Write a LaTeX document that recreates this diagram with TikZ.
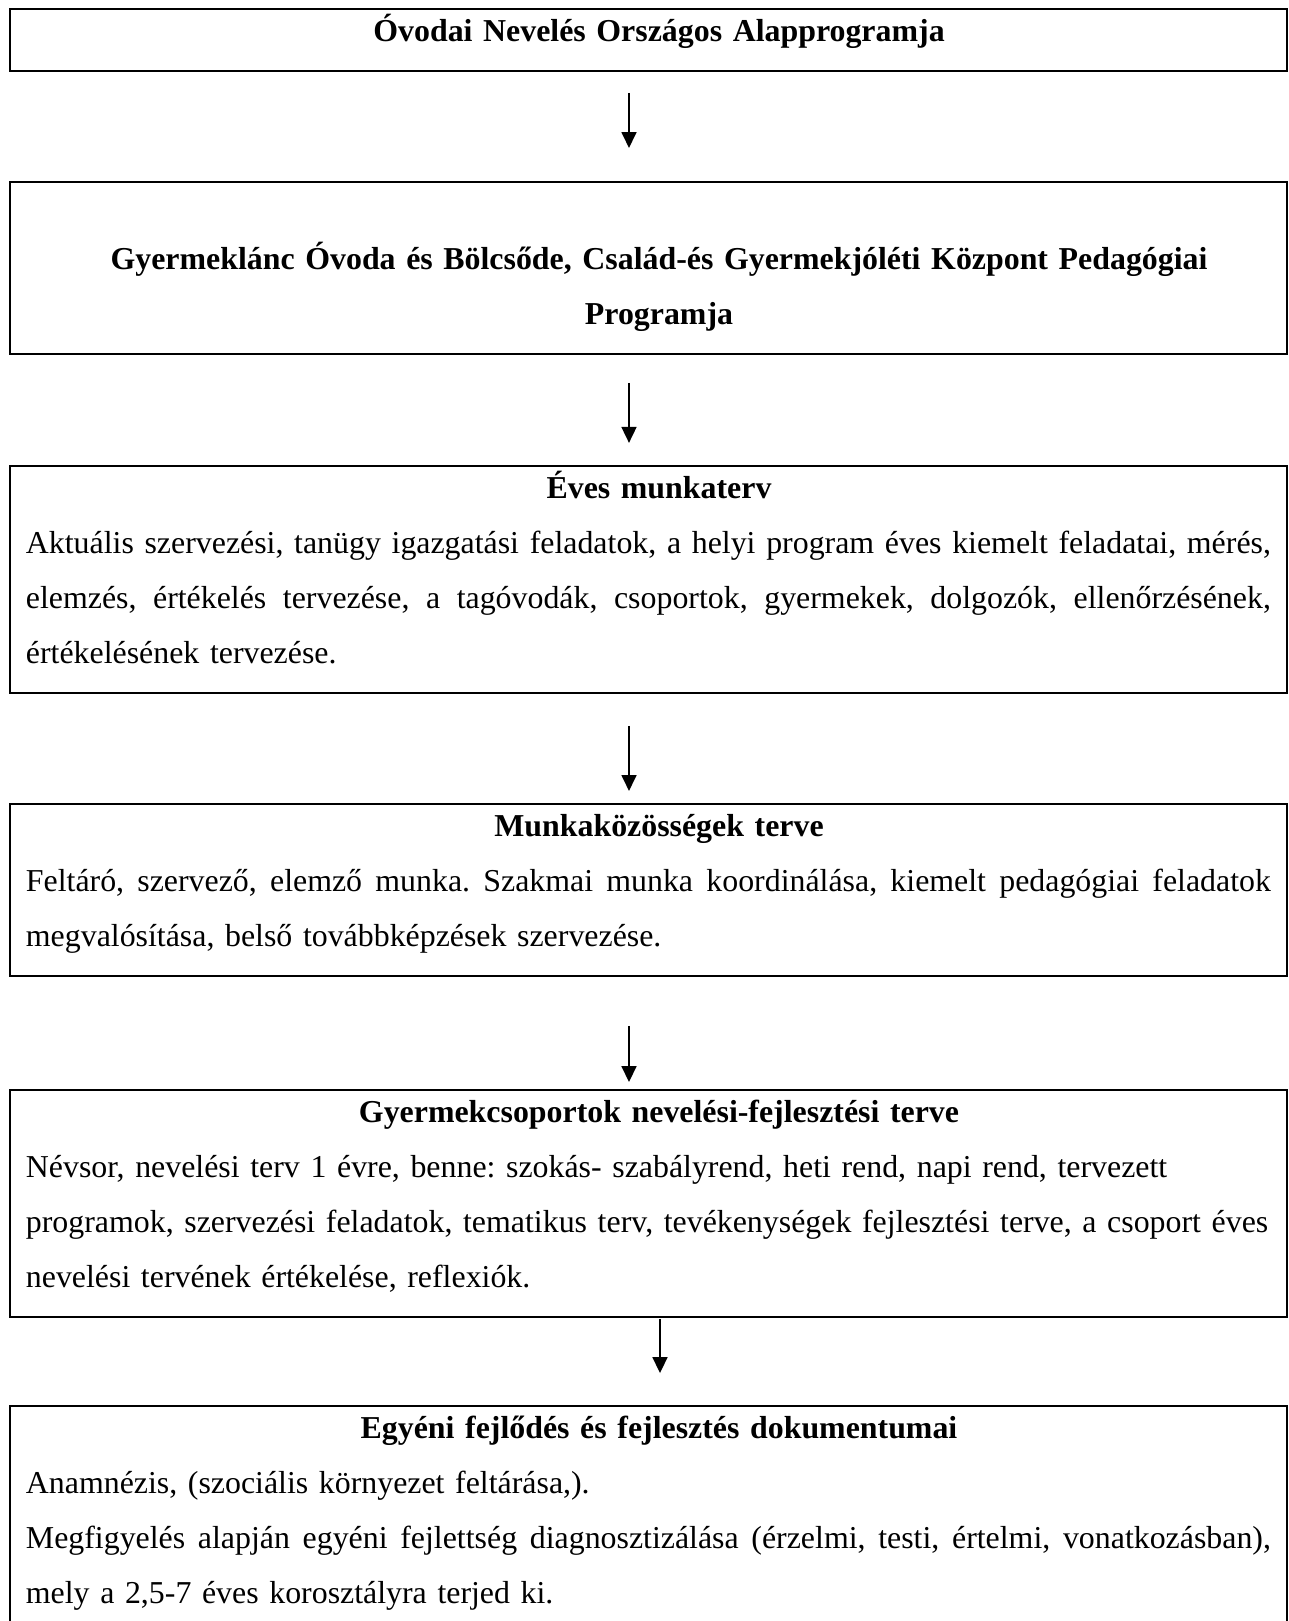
\documentclass[tikz,border=0pt]{standalone}
\usepackage{fontspec}
\setmainfont{Liberation Serif}
\usetikzlibrary{arrows.meta}

\frenchspacing
\tolerance=9999
\hyphenpenalty=10000

\newcommand{\lineStrut}{\rule[-9.6pt]{0pt}{20.7pt}}
\newcommand{\headLine}[1]{{\centering\lineStrut\hspace*{8pt}\textbf{#1}\par}}
\newcommand{\fillLine}[1]{{\leftskip=0pt\rightskip=0pt\parfillskip=0pt
  \spaceskip=3pt plus 12pt minus 1pt\lineStrut #1\par}}
\newcommand{\leftLine}[1]{{\lineStrut #1\par}}
\newcommand{\blankLine}{{\lineStrut\par}}

\tikzset{
  docBox/.style={rectangle, draw, line width=0.7pt, outer sep=0pt, inner xsep=6pt, inner ysep=1.3pt,
    text width=468.7pt, font=\fontsize{12pt}{20.7pt}\selectfont, anchor=north west},
  flowArrow/.style={-{Triangle[length=6pt,width=5.6pt]}, line width=0.75pt}
}

\begin{document}
\begin{tikzpicture}[x=0.3765pt, y=-0.3765pt]

\useasboundingbox (0,0) rectangle (1289,1621);

% Boxes
\draw (10,9) node [docBox] (nationalProgram) {\headLine{Óvodai Nevelés Országos Alapprogramja}};
\draw (10,182) node [docBox] (localProgram) {\blankLine
  \headLine{Gyermeklánc Óvoda és Bölcsőde, Család-és Gyermekjóléti Központ Pedagógiai}
  \headLine{Programja}};
\draw (10,466) node [docBox] (annualPlan) {\headLine{Éves munkaterv}
  \fillLine{Aktuális szervezési, tanügy igazgatási feladatok, a helyi program éves kiemelt feladatai, mérés,}
  \fillLine{elemzés, értékelés tervezése, a tagóvodák, csoportok, gyermekek, dolgozók, ellenőrzésének,}
  \leftLine{értékelésének tervezése.}};
\draw (10,804) node [docBox] (teamPlan) {\headLine{Munkaközösségek terve}
  \fillLine{Feltáró, szervező, elemző munka. Szakmai munka koordinálása, kiemelt pedagógiai feladatok}
  \leftLine{megvalósítása, belső továbbképzések szervezése.}};
\draw (10,1090) node [docBox] (groupPlan) {\headLine{Gyermekcsoportok nevelési-fejlesztési terve}
  \leftLine{Névsor, nevelési terv 1 évre, benne: szokás- szabályrend, heti rend, napi rend, tervezett}
  \leftLine{programok, szervezési feladatok, tematikus terv, tevékenységek fejlesztési terve, a csoport éves}
  \leftLine{nevelési tervének értékelése, reflexiók.}};
\draw (10,1406) node [docBox] (individualDocs) {\headLine{Egyéni fejlődés és fejlesztés dokumentumai}
  \leftLine{Anamnézis, (szociális környezet feltárása,).}
  \fillLine{Megfigyelés alapján egyéni fejlettség diagnosztizálása (érzelmi, testi, értelmi, vonatkozásban),}
  \leftLine{mely a 2,5-7 éves korosztályra terjed ki.}
  \blankLine};

\coordinate (arrowAxis) at (629,0);
\coordinate (lastAxis) at (660,0);

% Lines
\draw [flowArrow, shorten <=8.3pt, shorten >=12.8pt] (nationalProgram.south -| arrowAxis)--(localProgram.north -| arrowAxis);
\draw [flowArrow, shorten <=10.9pt, shorten >=8.7pt] (localProgram.south -| arrowAxis)--(annualPlan.north -| arrowAxis);
\draw [flowArrow, shorten <=12.4pt, shorten >=4.9pt] (annualPlan.south -| arrowAxis)--(teamPlan.north -| arrowAxis);
\draw [flowArrow, shorten <=18.8pt, shorten >=3pt] (teamPlan.south -| arrowAxis)--(groupPlan.north -| arrowAxis);
\draw [flowArrow, shorten <=0.75pt, shorten >=12.4pt] (groupPlan.south -| lastAxis)--(individualDocs.north -| lastAxis);
\end{tikzpicture}
\end{document}
